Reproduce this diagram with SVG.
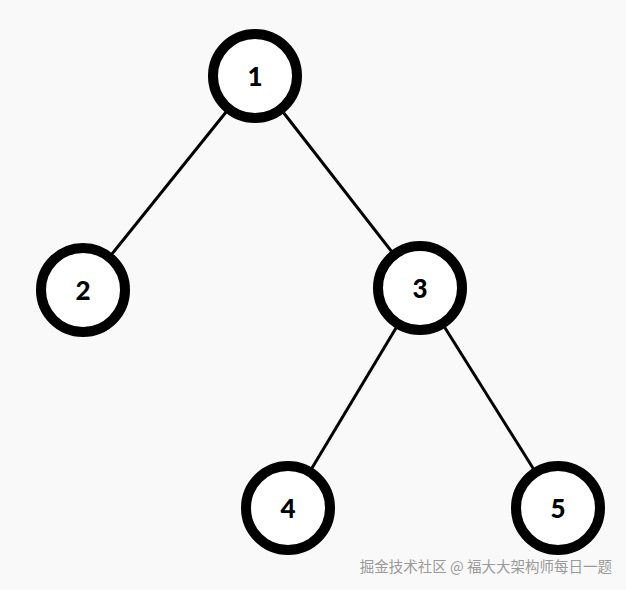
<svg xmlns="http://www.w3.org/2000/svg" width="626" height="590" viewBox="0 0 626 590">
<style>
.n circle{fill:#fff;stroke:#000;stroke-width:10}
.n text{font-family:"Lato","DejaVu Sans",sans-serif;font-weight:900;font-size:26px;text-anchor:middle;dominant-baseline:central;fill:#000}
.e line{stroke:#000;stroke-width:3}
</style>
<rect width="626" height="590" fill="#f9f9f9"/>
<g id="edges" class="e">
<line x1="255" y1="76" x2="83" y2="290"/>
<line x1="255" y1="76" x2="420" y2="288"/>
<line x1="420" y1="288" x2="288" y2="508"/>
<line x1="420" y1="288" x2="558" y2="508"/>
</g>
<g id="n1" class="n"><circle cx="255" cy="76" r="42"/><text x="255" y="76">1</text></g>
<g id="n2" class="n"><circle cx="83" cy="290" r="42"/><text x="83" y="290">2</text></g>
<g id="n3" class="n"><circle cx="420" cy="288" r="42"/><text x="420" y="288">3</text></g>
<g id="n4" class="n"><circle cx="288" cy="508" r="42"/><text x="288" y="508">4</text></g>
<g id="n5" class="n"><circle cx="558" cy="508" r="42"/><text x="558" y="508">5</text></g>
<text x="612" y="572" text-anchor="end" font-family="'Noto Sans CJK SC',sans-serif" font-size="14.5" fill="#9a9a9a">掘金技术社区 @ 福大大架构师每日一题</text>
</svg>
